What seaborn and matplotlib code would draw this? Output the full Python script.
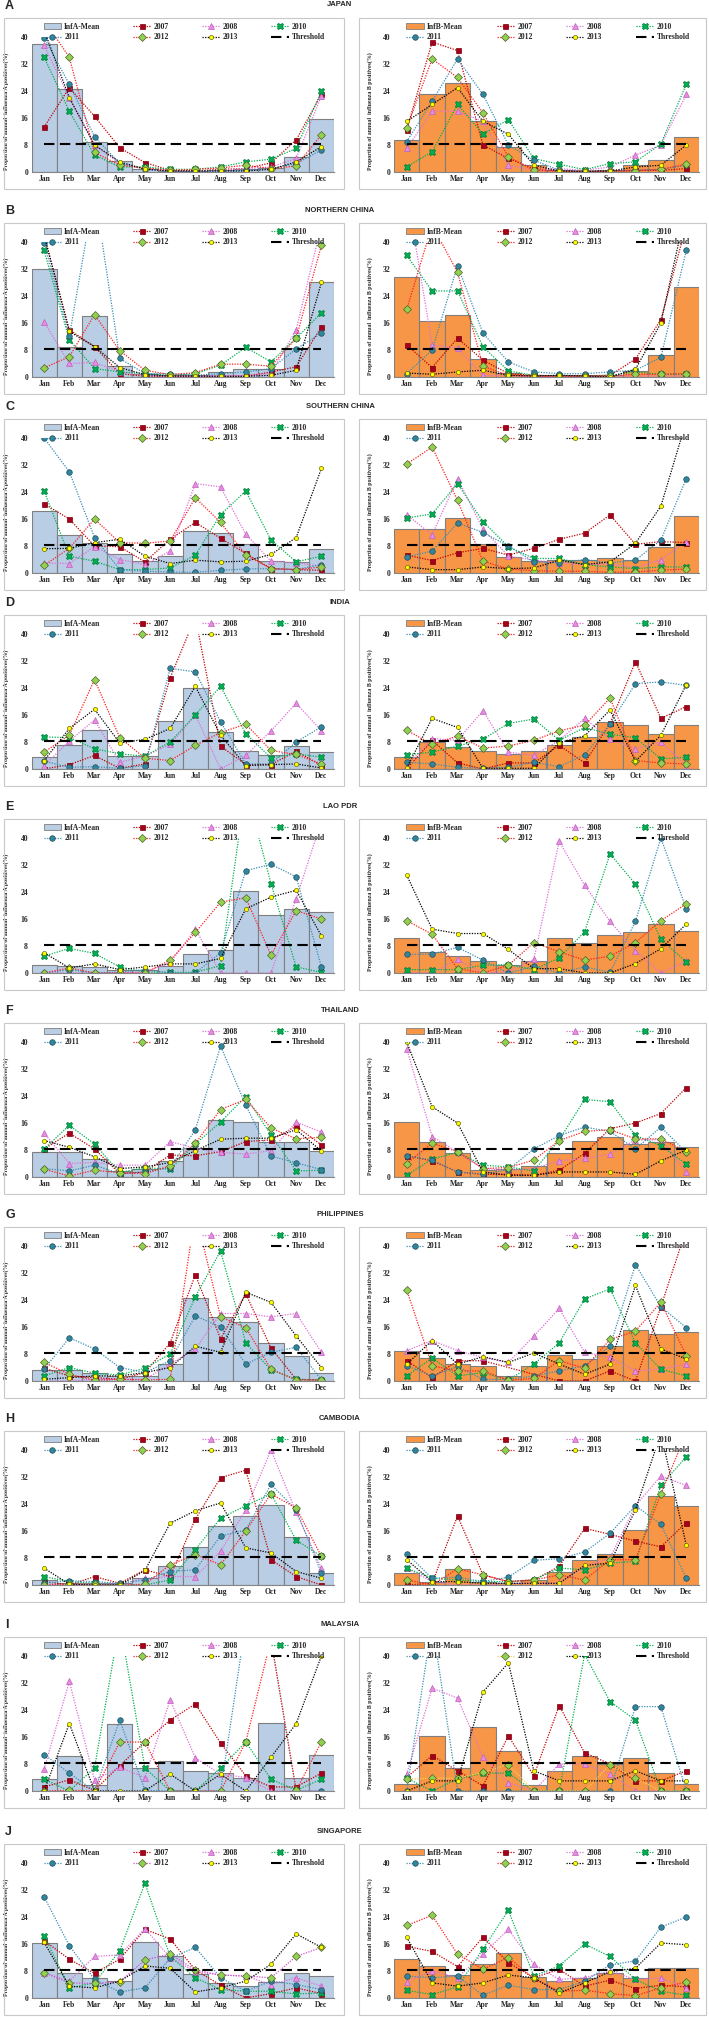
import numpy as np
import pandas as pd
import seaborn as sns
import matplotlib.pyplot as plt
from matplotlib.lines import Line2D
from matplotlib.patches import Patch, Rectangle

MONTHS = ['Jan', 'Feb', 'Mar', 'Apr', 'May', 'Jun', 'Jul', 'Aug', 'Sep', 'Oct', 'Nov', 'Dec']
YEARS = ['2007', '2008', '2010', '2011', '2012', '2013']
THRESHOLD = 8.3
N = None

# ---- A. Japan ----
JAPAN_A = {
    'mean': [38, 24.5, 9, 3.3, 1, 0.4, 0.3, 0.5, 1, 1.3, 4.5, 15.8],
    '2007': [13.3, 25, 16.5, 7.2, 2.8, 0.5, 0.3, 0.8, 1, 2.7, 9.5, 23],
    '2008': [37.5, 22, 8, 2.5, 1, 0.3, 0.2, 0.5, 1, 1.5, 4, 22.5],
    '2010': [34, 18, 5, 1.5, 1.5, 0.8, 0.8, 1.5, 3, 3.8, 7, 24],
    '2011': [39.8, 26, 10.5, 2.5, 1, 0.3, 0.2, 0.3, 0.5, 1, 2.5, 6.5],
    '2012': [45, 34, 5.8, 2, 1.2, 0.5, 0.8, 1.2, 2, 1, 1.8, 11],
    '2013': [42, 22, 8, 3, 0.8, 0.3, 0.3, 0.3, 0.3, 0.8, 3, 7.5],
}
JAPAN_B = {
    'mean': [9.5, 23, 26.5, 15, 7.5, 2, 0.7, 0.3, 0.7, 2, 3.5, 10.5],
    '2007': [12.5, 38.5, 36, 8, 4, 1, 0.3, 0.2, 0.3, 0.5, 0.5, 1],
    '2008': [7, 18, 18, 15, 2, 0.5, 1, 0.5, 1.5, 5, 8, 23],
    '2010': [1.5, 6, 20, 11.3, 15.5, 4, 2.3, 0.7, 2.5, 3, 8.3, 26],
    '2011': [9, 21, 33.5, 23, 8, 3.5, 0.5, 0.3, 0.3, 0.5, 0.8, 2],
    '2012': [13, 33.5, 28, 17.5, 4.5, 0.5, 0.2, 0.2, 0.2, 0.3, 0.8, 2.3],
    '2013': [15, 20, 25, 15, 11.2, 2, 0.3, 0.2, 0.3, 1.5, 2, 8],
}
# ---- B. Northern China ----
NCHINA_A = {
    'mean': [32, 9, 18, 3.3, 1, 0.5, 0.7, 1.5, 2.5, 2.3, 8.5, 28],
    '2007': [42, 14, 9, 1, 0.2, 0.2, 0.2, 0.2, 0.2, 1.5, 3, 14.8],
    '2008': [16.3, 4, 4.3, 1.5, 0.5, 0.3, 0.3, 0.3, 0.5, 1, 14, 45],
    '2010': [37.5, 11, 2.5, 1.5, 1, 0.5, 1, 3.5, 8.8, 4.5, 11.5, 19],
    '2011': [39.8, 12, 55, 5.5, 1, 1, 0.5, 1, 1.5, 2.5, 8.3, 13],
    '2012': [2.7, 6, 18.5, 7.8, 2, 0.7, 1.3, 3.8, 3.8, 3.2, 11.5, 39],
    '2013': [42, 13.5, 9, 2.8, 0.7, 0.3, 0.3, 0.2, 0.2, 0.5, 2, 28],
}
NCHINA_B = {
    'mean': [29.5, 16.5, 18.5, 5.2, 1.2, 0.5, 0.5, 0.5, 0.5, 1.8, 6.5, 26.8],
    '2007': [9.5, 2.8, 11.5, 5, 1, 0.5, 0.3, 0.3, 0.5, 5.3, 17, 45],
    '2008': [55, 9.5, 8.5, 0.5, 0.3, 0.2, 0.2, 0.2, 0.2, 0.3, 0.3, 0.3],
    '2010': [36, 25.5, 25.5, 9, 1.8, 0.5, 0.3, 0.3, 0.5, 1.5, 0.8, 0.8],
    '2011': [1, 8, 33, 13, 4.5, 1.5, 1, 1, 1.5, 2, 5.8, 37.5],
    '2012': [20, 45, 31, 3.2, 0.5, 0.3, 0, 0.3, 0.3, 0.8, 0.8, 1],
    '2013': [1.2, 0.8, 1.5, 2, 0.5, 0.3, 0.5, 0.3, 0, 2.3, 16, 50],
}
# ---- C. Southern China ----
SCHINA_A = {
    'mean': [18.3, 11.3, 9, 5.5, 3.5, 5, 12.3, 12, 8.5, 3.7, 3.3, 7.2],
    '2007': [20.5, 16, 8, 7.8, 3.3, 10, 15, 10.3, 5.8, 1.3, 1, 0.8],
    '2008': [3, 2.8, 7.8, 4, 2.5, 6.5, 26.5, 25.5, 11.5, 3.5, 3, 2],
    '2010': [24.3, 5, 3.5, 1, 1, 1.5, 5.3, 17.3, 24.3, 9.8, 3.3, 5],
    '2011': [40, 30, 10.5, 1, 0.5, 0.3, 0.2, 0.8, 1.2, 1.3, 1, 2.5],
    '2012': [2.3, 7.3, 16, 9, 8.8, 9.5, 22.3, 15, 5.3, 1.3, 1, 1.8],
    '2013': [7.2, 7.3, 9, 10, 5, 2.8, 3.8, 3.3, 3.5, 5.5, 10.5, 31],
}
SCHINA_B = {
    'mean': [13, 13, 16.3, 8.6, 4.7, 3.5, 4, 3.8, 4.5, 4, 7.6, 17],
    '2007': [5.3, 3.7, 6, 7.3, 5.3, 7.3, 10, 11.8, 17.2, 8.5, 9.3, 9],
    '2008': [17.3, 11.3, 28, 13, 5, 3.8, 3, 2.5, 2.8, 1.5, 4, 9.3],
    '2010': [16.3, 17.5, 26.5, 15.2, 7.8, 4.3, 4.3, 2.5, 1.8, 1.3, 1.8, 1.8],
    '2011': [4.8, 6.5, 14.8, 12, 8, 3.3, 3, 4, 3, 3.8, 9.7, 28],
    '2012': [32.3, 37.3, 21.5, 3.5, 1.2, 0.7, 0.5, 0.5, 0.2, 0.3, 0.8, 1.2],
    '2013': [1.8, 1, 1, 1.8, 1.3, 1.5, 3.8, 2.5, 3.3, 8.8, 19.8, 45],
}
# ---- D. India ----
INDIA_A = {
    'mean': [3.5, 7, 11.5, 3.8, 3.8, 14.3, 24, 11, 5.3, 4, 6.8, 5],
    '2007': [0, 1.3, 4, 0.2, 1.5, 27, 45, 6.8, 1.3, 1.3, 5.3, 1],
    '2008': [1, 8.3, 14.5, 2, 3.8, 7.3, 16, 0, 4, 11.3, 19.5, 11.3],
    '2010': [9.5, 9.3, 6, 4.5, 3.8, 8, 16, 24.5, 10.5, 3.3, 4.5, 3.5],
    '2011': [2.3, 0.5, 0.7, 0.2, 1, 29.8, 28.8, 14, 1.5, 1.5, 8, 12.5],
    '2012': [5, 10, 26.5, 9.3, 3.2, 2.5, 7, 10.8, 13.3, 5.5, 4.3, 1.5],
    '2013': [2.5, 12, 17.7, 7.7, 8.8, 12, 24.5, 10, 1, 1.3, 1.5, 0.3],
}
INDIA_B = {
    'mean': [3.5, 8, 6.5, 5.3, 4.5, 5.2, 7.2, 9.5, 14, 13, 10.5, 13],
    '2007': [0, 8.5, 1.8, 0, 1.8, 1.8, 7, 1.8, 13.5, 31.8, 15, 18.5],
    '2008': [1, 9, 8.5, 17.3, 5, 4, 8.5, 15, 8.8, 6, 8, 1],
    '2010': [4.2, 5, 6.8, 8.8, 13.5, 14.8, 8.5, 12.3, 10.3, 9.3, 3, 3.5],
    '2011': [2, 1.5, 0.5, 0.2, 0.5, 2, 0.7, 4.2, 13.3, 25.3, 25.8, 24.8],
    '2012': [11.5, 7.3, 9.8, 6.2, 6.8, 8.5, 11.3, 13, 21, 2.5, 1.8, 1.5],
    '2013': [0.3, 15, 12.3, 0.2, 0.2, 0.2, 7.8, 9.8, 17.5, 2.3, 10, 25],
}
# ---- E. Lao PDR ----
LAO_A = {
    'mean': [2.3, 2, 1.8, 0.8, 1, 2.2, 5.5, 6.8, 24.2, 17.2, 19, 18],
    '2007': [N] * 12,
    '2008': [0, 0, 0, 0.2, 0.3, 3, 13, 0, 0, 0, 22, 45],
    '2010': [5, 7.3, 5.8, 1.8, 0.3, 0.2, 0.2, 2.2, 55, 26.5, 1.8, 0.2],
    '2011': [0, 1, 0, 0.3, 1, 0, 0, 6, 30.3, 32.2, 28.5, 1.8],
    '2012': [0, 1.5, 0, 0, 0, 3.8, 12, 21, 22.3, 5.3, 18.5, 16],
    '2013': [6, 1.5, 2.7, 1, 1.8, 2.7, 2.7, 4.3, 19, 22.5, 24.5, 11],
}
LAO_B = {
    'mean': [10.3, 6.3, 5, 3.5, 2.3, 3.5, 10.3, 8.8, 11.2, 12, 14.5, 12.3],
    '2007': [N] * 12,
    '2008': [0, 0, 4, 0, 0.5, 4, 39, 26, 15.3, 6.5, 0, 3.5],
    '2010': [1, 1, 1, 2.3, 2.5, 1, 4.5, 12.2, 35.3, 26.3, 10, 3.3],
    '2011': [5.5, 5.6, 7.6, 3.8, 0, 2, 0, 1.8, 0.2, 15.3, 40, 19],
    '2012': [15.5, 11.5, 1.3, 0, 2.3, 9, 6.3, 3.8, 5, 9, 15.5, 20.5],
    '2013': [29, 13, 11.7, 11.7, 7, 1.3, 1.3, 0, 0, 2.8, 7.2, 14.5],
}
# ---- F. Thailand ----
THAI_A = {
    'mean': [7.5, 7.3, 5.3, 1.8, 2.3, 4.8, 8.5, 16.8, 16.3, 10.5, 10.5, 7.8],
    '2007': [8.3, 13, 8.3, 1, 1.5, 6.5, 6.3, 7.5, 10.5, 11, 15, 9.5],
    '2008': [13, 4, 4.3, 3.5, 3.5, 10.5, 8.5, 7.3, 6.8, 7.8, 16.3, 13.3],
    '2010': [8.3, 15.3, 9.8, 1.3, 2.8, 2.3, 9.8, 16.3, 23.8, 12.5, 1.8, 2],
    '2011': [2.5, 1.8, 3.5, 1, 1.5, 2.8, 14, 38.8, 21.3, 6.2, 4.2, 2.2],
    '2012': [2.3, 0.3, 2, 1.3, 1, 3.3, 10, 20, 23, 14.5, 11.3, 11.8],
    '2013': [10.8, 8.8, 6, 2.5, 3, 4.3, 7.8, 11.2, 11.5, 11.5, 14, 7.7],
}
THAI_B = {
    'mean': [16.2, 10.5, 7, 2.2, 2.3, 3.3, 7, 10.8, 12, 9.8, 10.5, 9],
    '2007': [6.3, 4.8, 1.5, 0.8, 0.8, 0.5, 2, 7, 14.3, 16, 18.8, 26.5],
    '2008': [38, 12, 7.3, 2.5, 2, 2.5, 4.8, 5.5, 6.8, 11, 11, 1.5],
    '2010': [0.5, 5.3, 7.3, 3.5, 3, 1.8, 11, 23, 22.3, 12.3, 9.3, 3.8],
    '2011': [6.3, 5, 1.5, 0.8, 2.2, 8.3, 12.3, 14.8, 13.5, 8.3, 14.8, 7.3],
    '2012': [4, 10, 7.5, 2.5, 2.8, 5, 10.8, 13.5, 14, 11.3, 11.3, 7.5],
    '2013': [40, 20.8, 16, 1.5, 0.5, 0.5, 1.5, 1.5, 1.5, 0.8, 4.8, 8],
}
# ---- G. Philippines ----
PHIL_A = {
    'mean': [3.3, 3.3, 2.3, 1.5, 1.5, 5, 24.5, 19, 17.5, 11.3, 7.3, 2.5],
    '2007': [3.8, 1.5, 1, 0.5, 2.5, 11.3, 31.5, 12.5, 25.8, 9.8, 0.5, 0.3],
    '2008': [0, 0, 0.5, 0.5, 0.5, 5, 9.5, 20, 20, 19, 20, 8.5],
    '2010': [1.5, 4, 2.3, 1.8, 3.8, 8, 25, 38.5, 11.3, 3.3, 0.5, 0.3],
    '2011': [3.5, 12.8, 9.5, 4, 2.5, 6, 19.3, 16, 5, 8.5, 10, 0.3],
    '2012': [5.5, 2, 0.2, 0.5, 0.3, 0.5, 50, 19, 15.8, 3.5, 0.3, 0.3],
    '2013': [0.5, 1, 1.5, 1.5, 2.5, 4, 10.3, 8.5, 26.3, 23.3, 13.3, 4],
}
PHIL_B = {
    'mean': [9, 6.8, 5, 4.3, 1.5, 4.5, 7.8, 6.5, 10.5, 15, 14, 14.5],
    '2007': [6, 1, 6, 6, N, N, 0, 0, 3, 0, 22, 45],
    '2008': [9, 12, 9, 7, 5.5, 13.3, 21.5, 8.5, 7, 3, 3.5, 5],
    '2010': [1.5, 6.8, 1.5, 2.5, 0.3, 5, 11.3, 24.3, 27.3, 11.3, 3.5, 1.5],
    '2011': [4.5, 1.5, 4.3, 0.5, 0.5, 1.5, 3, 4.5, 10.3, 34.5, 22, 15.8],
    '2012': [27, 4.5, 3, 3, 0.2, 0.8, 6, 3.8, 12.3, 14.8, 23.3, 7.5],
    '2013': [5, 12, 5, 7.2, 5.5, 8.3, 5, 2, 5, 28.3, 9.5, 6.5],
}
# ---- H. Cambodia ----
CAMB_A = {
    'mean': [1.5, 0.5, 0.5, 0.5, 2, 5.5, 11.3, 17.5, 20.5, 23.8, 14.3, 3.5],
    '2007': [1, 0, 2.5, 0.5, 4.5, 2.5, 19.5, 31.8, 34, 7.5, 2.5, 0],
    '2008': [0, 0, 0.5, 0.3, 2, 2.5, 2.5, 10, 22.3, 40, 21.5, 5],
    '2010': [2.5, 1, 0.5, 0, 0, 1.5, 10.5, 19.8, 23.5, 27, 13.3, 8.5],
    '2011': [0.5, 1.3, 1, 0.5, 1.5, 4, 4.5, 14.5, 16.3, 29.8, 22.3, 3.5],
    '2012': [0, 0.2, 0.2, 0, 0.2, 6, 9, 6, 16, 27, 22.8, 8.5],
    '2013': [5, 0.2, 0, 0, 4.3, 18.3, 22, 24.3, 11, 9.5, 4, 2],
}
CAMB_B = {
    'mean': [3.5, 1, 4.8, 1, 0.5, 1.5, 3.8, 7.3, 9.3, 16.3, 26.5, 23.5],
    '2007': [0, 0.5, 20.5, 3, 1, 1.5, 5.5, 16.8, 15, 13, 11.3, 18.5],
    '2008': [5, 1, 0, 0, 0.5, 0.5, 0.5, 5.5, 8, 23.5, 32.3, 29.5],
    '2010': [5, 2, 1.5, 1, 1, 1.5, 5, 4.5, 6.5, 7, 29.5, 38],
    '2011': [9.3, 2, 2.3, 1, 2.3, 7.3, 7.8, 9.8, 15.3, 23.5, 18, 2],
    '2012': [1.5, 0, 4.8, 3, 1, 1.5, 3, 1.5, 7.5, 7.5, 27, 45],
    '2013': [7.5, 1, 1, 0.5, 0.5, 0.5, 0.5, 5.8, 6.5, 22.3, 45, 11.8],
}
# ---- I. Malaysia ----
MALAY_A = {
    'mean': [3.7, 10.3, 1.8, 19.8, 6.8, 8.8, 5.8, 5.2, 4, 20.2, 3.8, 10.8],
    '2007': [1.2, 3.3, 0.2, 7.5, 14.5, 21, 25.8, 14.2, 4.5, 1.2, 1.2, 5.3],
    '2008': [6.5, 32.5, 3.3, 7, 4, 27, 9.8, 5, 4, 0, 0, 0],
    '2010': [3.5, 0, 6.8, 50, 6.8, 0, 0, 6.8, 14.5, 3.5, 0.2, 3.5],
    '2011': [10.8, 5.3, 0, 21, 0.2, 0, 0, 0, 50, 45, 0, 0],
    '2012': [0, 0.2, 0, 14.5, 14.5, 0, 0, 0, 14.5, 45, 0.2, 14.5],
    '2013': [0, 20, 0, 0, 0, 5, 0, 5, 0, 10, 20, 40],
}
MALAY_B = {
    'mean': [2.2, 16.2, 6.8, 19, 11.8, 1.8, 6, 10.3, 8, 9.8, 5.2, 2],
    '2007': [4, 10.5, 6, 1.5, 16.3, 4.5, 25.3, 11.3, 8, 3, 3, 6],
    '2008': [5, 30.5, 27.5, 10, 2.5, 0, 8, 8, 5, 0, 0, 0],
    '2010': [3.8, 0, 3.5, 5.3, 5.3, 0, 0, 40.5, 26.5, 21, 0, 0],
    '2011': [0, 50, 0, 0, 0, 0, 0, 0, 0, 25, 25, 0],
    '2012': [3.5, 3.8, 3.8, 5.5, 7.8, 0, 0, 0, 7.8, 3.8, 0, 0],
    '2013': [0, 3, 3, 29.3, 38, 6, 3, 3, 3, 6, 3, 3],
}
# ---- J. Singapore ----
SING_A = {
    'mean': [16.2, 7.5, 6, 5, 16.5, 12.5, 7, 4.5, 3.5, 4.8, 7.5, 6.5],
    '2007': [17, 11.5, 7.3, 11.5, 20.3, 17.5, 8.3, 3.8, 0, 1.3, 3, 1.3],
    '2008': [7.5, 5, 12.3, 12.8, 20.5, 12, 7.8, 6.8, 6.5, 4, 6, 3.5],
    '2010': [18.5, 3, 4.5, 14, 34, 12.3, 6, 2.5, 2, 2, 1.2, 1.5],
    '2011': [30, 15.5, 5.5, 1.8, 3, 11.8, 15, 6, 2, 5, 4, 2.5],
    '2012': [7.5, 4.5, 4.3, 4.8, 11.3, 13, 8.3, 6.8, 6.5, 6, 12.3, 15],
    '2013': [16.5, 3.5, 3, 5, 9.5, 8.8, 1.8, 3, 5, 10, 19, 15],
}
SING_B = {
    'mean': [11.5, 9.5, 6.8, 10, 13.3, 6.3, 5, 6, 7.5, 5.8, 8.8, 8.8],
    '2007': [15.3, 13.8, 9.3, 18, 10.5, 6, 8.5, 3.5, 5.3, 2.8, 3.8, 3.3],
    '2008': [4.8, 8, 6, 13, 20.3, 10, 5.5, 6, 8, 5.5, 6, 3],
    '2010': [2.3, 1, 3.3, 14.5, 26, 6.5, 9.5, 16, 12.3, 5.5, 2, 0.8],
    '2011': [6.5, 6, 6.5, 0.8, 3.8, 2.5, 2.5, 5, 9.8, 11, 21, 24],
    '2012': [21.5, 24.5, 13, 8.5, 12, 5.8, 2, 2.3, 1.3, 0.7, 3, 4.8],
    '2013': [18, 4.5, 3.5, 4.5, 6.8, 6, 1.5, 4.5, 7.8, 8.8, 16.3, 15.8],
}

ROWS = [
    ('A', 'JAPAN', JAPAN_A, JAPAN_B),
    ('B', 'NORTHERN CHINA', NCHINA_A, NCHINA_B),
    ('C', 'SOUTHERN CHINA', SCHINA_A, SCHINA_B),
    ('D', 'INDIA', INDIA_A, INDIA_B),
    ('E', 'LAO PDR', LAO_A, LAO_B),
    ('F', 'THAILAND', THAI_A, THAI_B),
    ('G', 'PHILIPPINES', PHIL_A, PHIL_B),
    ('H', 'CAMBODIA', CAMB_A, CAMB_B),
    ('I', 'MALAYSIA', MALAY_A, MALAY_B),
    ('J', 'SINGAPORE', SING_A, SING_B),
]

# line styles per season
STYLES = {
    '2007': dict(color='#c00000', marker='s', markerfacecolor='#a50021', markeredgecolor='#7f0000', markersize=3.6),
    '2008': dict(color='#e070d8', marker='^', markerfacecolor='#e58ee0', markeredgecolor='#c060c0', markersize=4.2),
    '2010': dict(color='#00b050', marker='X', markerfacecolor='#00b050', markeredgecolor='#007a3a', markersize=4.6),
    '2011': dict(color='#3a8fb5', marker='o', markerfacecolor='#31859c', markeredgecolor='#1f4e5f', markersize=4.0),
    '2012': dict(color='#ff2020', marker='D', markerfacecolor='#92d050', markeredgecolor='#4f6228', markersize=3.6),
    '2013': dict(color='#000000', marker='o', markerfacecolor='#ffff00', markeredgecolor='#6b6b00', markersize=3.0),
}
LINE_OVERRIDE = {('MALAYSIA', 'B', '2012'): '#ffd24d', ('SINGAPORE', 'A', '2012'): '#d050d0'}
BAR_COLOR = {'A': '#b9cde5', 'B': '#f79646'}

sns.set_theme(style='white')
plt.rcParams['font.family'] = ['Liberation Serif', 'DejaVu Serif']
plt.rcParams['font.weight'] = 'bold'

W, H = 709, 2017
fig = plt.figure(figsize=(W / 100, H / 100), dpi=100)

Y40 = [37, 242, 438, 634, 838, 1042, 1246, 1450, 1656, 1863]
AX_H = 135
AX_X = {'A': (31.5, 334), 'B': (394, 699)}
BOX_X = {'A': (4, 344), 'B': (359, 706)}
DOT = (0, (1, 1.1))


def draw_panel(ax, panel, kind, country):
    df = pd.DataFrame({'month': MONTHS, 'value': panel['mean']})
    sns.barplot(data=df, x='month', y='value', order=MONTHS, ax=ax, color=BAR_COLOR[kind],
                saturation=1, width=1.0, edgecolor='#7f7f7f', linewidth=0.8)
    handles = {}
    for yr in YEARS:
        st = dict(STYLES[yr])
        st['color'] = LINE_OVERRIDE.get((country, kind, yr), st['color'])
        vals = np.array([np.nan if v is None else v for v in panel[yr]], dtype=float)
        if not np.all(np.isnan(vals)):
            sns.lineplot(x=MONTHS, y=vals, ax=ax, sort=False, estimator=None, linewidth=0.9,
                         linestyle=DOT, markeredgewidth=0.5, **st)
        handles[yr] = Line2D([], [], linewidth=0.9, linestyle=DOT, markeredgewidth=0.5, **st)
    sns.lineplot(x=MONTHS, y=[THRESHOLD] * 12, ax=ax, color='black', linewidth=1.5,
                 linestyle=(0, (5, 2.6)))
    handles['thr'] = Line2D([], [], color='black', linewidth=1.5, linestyle=(0, (5, 2.6)))
    handles['mean'] = Patch(facecolor=BAR_COLOR[kind], edgecolor='#7f7f7f', linewidth=0.6)

    ax.set_xlim(-0.5, 11.5)
    ax.set_ylim(0, 40)
    ax.set_yticks(range(0, 41, 8))
    ax.set_xlabel('')
    ax.set_ylabel(f'Proportion of annual  influenza {kind} positives(%)', fontsize=4.2,
                  fontweight='bold')
    ax.yaxis.set_label_coords(-0.075 if kind == 'A' else -0.068, 0.45)
    ax.tick_params(axis='both', length=0, labelsize=5.5, pad=2.5)
    for lab in ax.get_xticklabels() + ax.get_yticklabels():
        lab.set_fontweight('bold')
    for s in ['left', 'top', 'right']:
        ax.spines[s].set_visible(False)
    ax.spines['bottom'].set_color('#868686')
    ax.spines['bottom'].set_linewidth(0.8)
    ax.set_facecolor('none')

    order = ['mean', '2011', '2007', '2012', '2008', '2013', '2010', 'thr']
    names = {'mean': f'Inf{kind}-Mean', 'thr': 'Threshold'}
    ax.legend([handles[k] for k in order], [names.get(k, k) for k in order],
              loc='lower left', bbox_to_anchor=(0.04, 0.968, 0.93, 0.05), mode='expand',
              ncol=4, frameon=False, fontsize=5.5, handlelength=2.3, handletextpad=0.4,
              borderaxespad=0, borderpad=0, labelspacing=0.35, columnspacing=1.0,
              prop={'weight': 'bold', 'size': 5.5})


for r, (letter, country, pa, pb) in enumerate(ROWS):
    top = Y40[r]
    for kind, panel in (('A', pa), ('B', pb)):
        bx0, bx1 = BOX_X[kind]
        fig.add_artist(Rectangle((bx0 / W, 1 - (top + AX_H + 17) / H), (bx1 - bx0) / W,
                                 (AX_H + 36) / H, transform=fig.transFigure, fill=False,
                                 edgecolor='#c8c8c8', linewidth=0.8))
        x0, x1 = AX_X[kind]
        ax = fig.add_axes([x0 / W, 1 - (top + AX_H) / H, (x1 - x0) / W, AX_H / H])
        draw_panel(ax, panel, kind, country)
    fig.text(5 / W, 1 - (top - 31) / H, letter, ha='left', va='center', fontsize=9,
             fontweight='bold', family=['Liberation Sans', 'DejaVu Sans'])
    fig.text(340 / W, 1 - (top - 32) / H, country, ha='center', va='center', fontsize=5.5,
             fontweight='bold', family=['Liberation Sans', 'DejaVu Sans'])

fig.savefig('out.png', dpi=100)
